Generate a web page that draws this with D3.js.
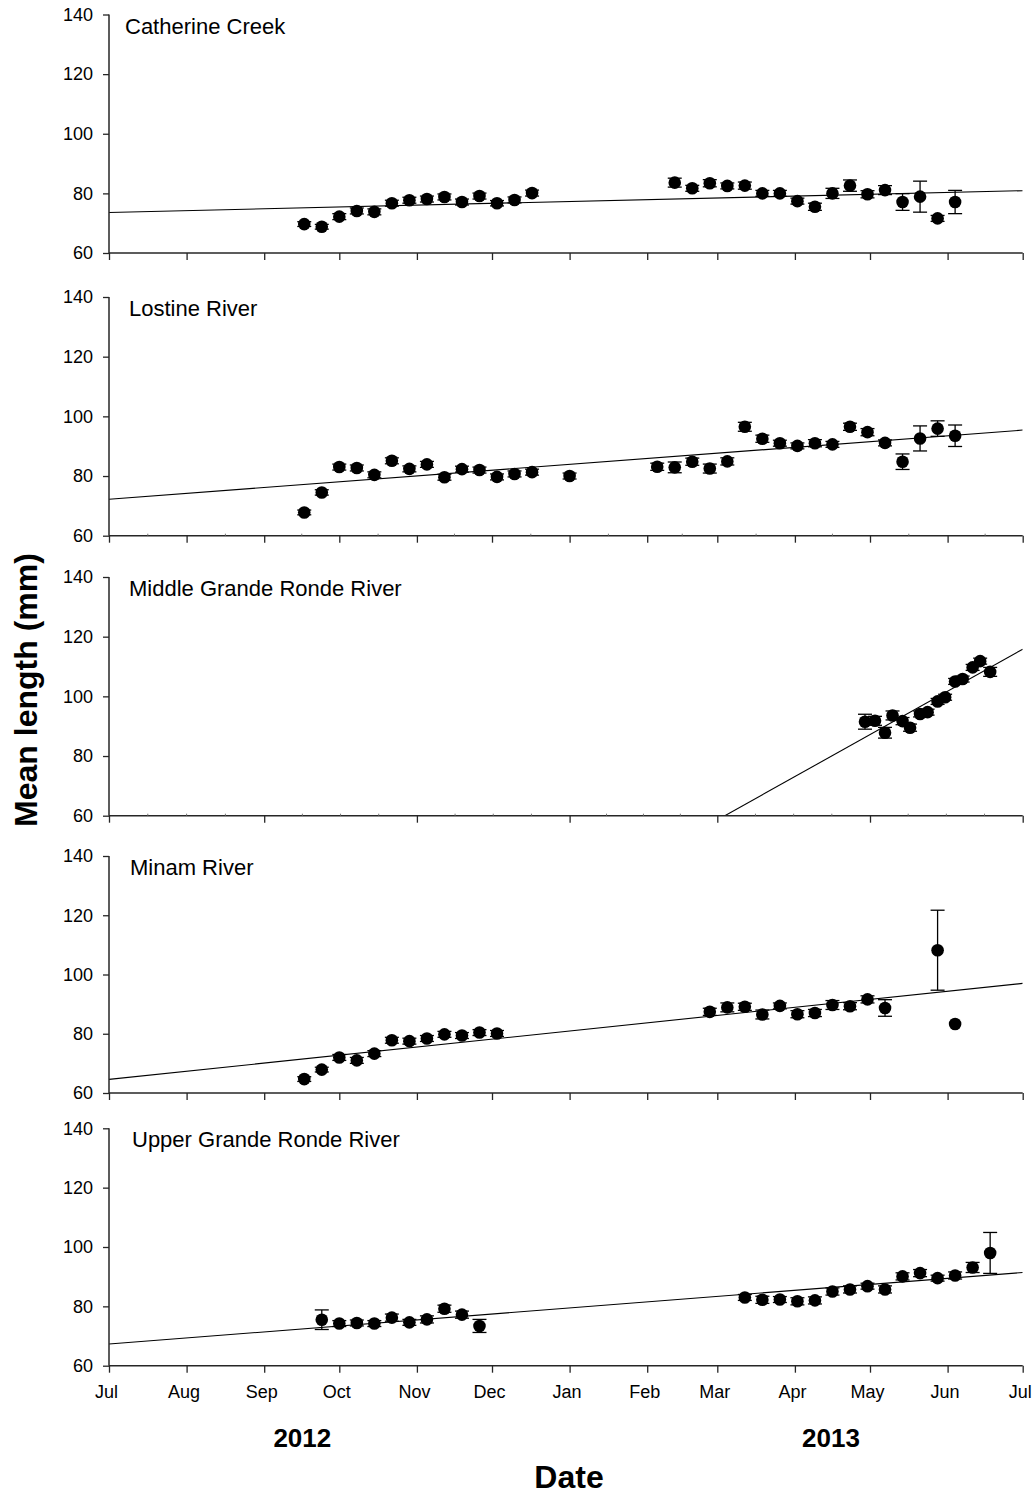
<!DOCTYPE html>
<html>
<head>
<meta charset="utf-8">
<script src="https://d3js.org/d3.v7.min.js"></script>
<style>
  html, body { margin: 0; padding: 0; background: #fff; }
  svg { display: block; font-family: "Liberation Sans", Arial, sans-serif; }
</style>
</head>
<body>
<div id="chart"></div>
<script>
'use strict';

// ─── DATA ────────────────────────────────────────────────────

var riverNames = ['Catherine Creek', 'Lostine River', 'Middle Grande Ronde River', 'Minam River', 'Upper Grande Ronde River'];

var catherineDates = ['2012-09-17', '2012-09-24', '2012-10-01', '2012-10-08', '2012-10-15', '2012-10-22', '2012-10-29',
    '2012-11-05', '2012-11-12', '2012-11-19', '2012-11-26', '2012-12-03', '2012-12-10', '2012-12-17',
    '2013-02-12', '2013-02-19', '2013-02-26', '2013-03-05', '2013-03-12', '2013-03-19', '2013-03-26',
    '2013-04-02', '2013-04-09', '2013-04-16', '2013-04-23', '2013-04-30', '2013-05-07', '2013-05-14',
    '2013-05-21', '2013-05-28', '2013-06-04'];
var catherineMeans = [69.7, 68.8, 72.2, 74.1, 73.8, 76.7, 77.7, 78.1, 78.8, 77.1, 79.1, 76.7, 77.8, 80.1,
    83.6, 81.7, 83.4, 82.5, 82.6, 80.0, 80.0, 77.4, 75.5, 80.0, 82.6, 79.7, 81.1, 77.1, 78.9, 71.6, 77.1];
var catherineSE = [0.8, 0.8, 1.0, 1.0, 1.0, 1.0, 1.0, 1.0, 1.0, 1.0, 1.0, 0.9, 1.0, 1.0,
    1.5, 1.0, 1.2, 1.0, 1.2, 1.0, 1.0, 1.0, 1.2, 1.7, 1.9, 1.2, 1.5, 2.8, 5.2, 1.0, 3.9];
var catherineTrend = [73.6, 80.9];

var lostineDates = ['2012-09-17', '2012-09-24', '2012-10-01', '2012-10-08', '2012-10-15', '2012-10-22', '2012-10-29',
    '2012-11-05', '2012-11-12', '2012-11-19', '2012-11-26', '2012-12-03', '2012-12-10', '2012-12-17',
    '2013-01-01', '2013-02-05', '2013-02-12', '2013-02-19', '2013-02-26', '2013-03-05', '2013-03-12',
    '2013-03-19', '2013-03-26', '2013-04-02', '2013-04-09', '2013-04-16', '2013-04-23', '2013-04-30',
    '2013-05-07', '2013-05-14', '2013-05-21', '2013-05-28', '2013-06-04'];
var lostineMeans = [67.8, 74.5, 83.0, 82.7, 80.4, 85.1, 82.4, 83.9, 79.6, 82.3, 82.0, 79.7, 80.7, 81.3,
    80.0, 83.1, 82.9, 84.8, 82.5, 84.9, 96.5, 92.5, 91.0, 90.1, 91.0, 90.6, 96.5, 94.7, 91.1, 84.8,
    92.6, 95.9, 93.5];
var lostineSE = [0.8, 0.9, 1.0, 1.0, 1.0, 1.0, 1.0, 1.0, 1.0, 1.0, 1.0, 1.0, 1.0, 1.0,
    1.0, 1.2, 1.8, 1.2, 1.5, 1.2, 1.5, 1.2, 1.0, 1.0, 1.2, 1.0, 1.2, 1.2, 1.0, 2.6, 4.2, 2.6, 3.6];
var lostineTrend = [72.2, 95.4];

var middleDates = ['2013-04-29', '2013-05-03', '2013-05-07', '2013-05-10', '2013-05-14', '2013-05-17', '2013-05-21',
    '2013-05-24', '2013-05-28', '2013-05-31', '2013-06-04', '2013-06-07', '2013-06-11', '2013-06-14', '2013-06-18'];
var middleMeans = [91.5, 91.8, 87.8, 93.6, 91.7, 89.5, 94.1, 94.7, 98.3, 99.7, 105.0, 105.8, 109.7, 111.8, 108.2];
var middleSE = [2.5, 1.5, 1.8, 1.5, 1.2, 1.2, 1.0, 1.0, 1.0, 1.0, 1.0, 1.0, 1.0, 1.0, 1.5];
var middleTrend = [-55.4, 115.8];

var minamDates = ['2012-09-17', '2012-09-24', '2012-10-01', '2012-10-08', '2012-10-15', '2012-10-22', '2012-10-29',
    '2012-11-05', '2012-11-12', '2012-11-19', '2012-11-26', '2012-12-03',
    '2013-02-26', '2013-03-05', '2013-03-12', '2013-03-19', '2013-03-26', '2013-04-02', '2013-04-09',
    '2013-04-16', '2013-04-23', '2013-04-30', '2013-05-07', '2013-05-28', '2013-06-04'];
var minamMeans = [64.7, 67.9, 72.0, 71.0, 73.3, 77.8, 77.5, 78.4, 79.8, 79.4, 80.4, 80.1,
    87.4, 88.9, 89.1, 86.5, 89.4, 86.6, 87.0, 89.7, 89.3, 91.6, 88.7, 108.2, 83.3];
var minamSE = [0.8, 0.8, 1.0, 1.0, 1.0, 1.0, 1.0, 1.0, 1.0, 1.0, 1.0, 1.0,
    1.2, 1.5, 1.2, 1.5, 1.0, 1.2, 1.2, 1.5, 1.2, 1.2, 2.8, 13.5, 0];
var minamTrend = [64.6, 97.0];

var upperDates = ['2012-09-24', '2012-10-01', '2012-10-08', '2012-10-15', '2012-10-22', '2012-10-29',
    '2012-11-05', '2012-11-12', '2012-11-19', '2012-11-26',
    '2013-03-12', '2013-03-19', '2013-03-26', '2013-04-02', '2013-04-09', '2013-04-16', '2013-04-23',
    '2013-04-30', '2013-05-07', '2013-05-14', '2013-05-21', '2013-05-28', '2013-06-04', '2013-06-11', '2013-06-18'];
var upperMeans = [75.5, 74.2, 74.4, 74.2, 76.2, 74.6, 75.6, 79.2, 77.2, 73.4,
    83.0, 82.2, 82.3, 81.7, 82.0, 85.0, 85.7, 86.8, 85.7, 90.1, 91.2, 89.5, 90.4, 93.1, 98.0];
var upperSE = [3.3, 1.0, 1.0, 1.0, 1.2, 1.0, 1.2, 1.2, 1.2, 2.2,
    1.0, 1.2, 1.0, 1.2, 1.2, 1.2, 1.2, 1.0, 1.2, 1.2, 1.2, 1.0, 1.2, 1.7, 6.9];
var upperTrend = [67.3, 91.4];

var yTicks = [60, 80, 100, 120, 140];
var monthLabels = ['Jul', 'Aug', 'Sep', 'Oct', 'Nov', 'Dec', 'Jan', 'Feb', 'Mar', 'Apr', 'May', 'Jun', 'Jul'];
var yearLabels = ['2012', '2013'];

// ─── LAYOUT ──────────────────────────────────────────────────

var W = 1034, H = 1494;
var X0 = 109, X1 = 1022.7;
var panelTops = [14.5, 297, 577, 856, 1128.3];
var panelBottoms = [253, 535.7, 815.7, 1093, 1365.7];
var titleX = [125, 129, 129, 130, 132];
// tick style per panel: 'month', 'half' (monthly + mid-month minors), 'bimonth'
var tickStyles = ['month', 'half', 'bimonth', 'month', 'month'];

var parse = d3.timeParse('%Y-%m-%d');
var domainStart = new Date(2012, 6, 1);
var domainEnd = new Date(2013, 6, 1);

var x = d3.scaleTime().domain([domainStart, domainEnd]).range([X0, X1]);

var panels = [
    { dates: catherineDates, means: catherineMeans, se: catherineSE, trend: catherineTrend },
    { dates: lostineDates, means: lostineMeans, se: lostineSE, trend: lostineTrend },
    { dates: middleDates, means: middleMeans, se: middleSE, trend: middleTrend },
    { dates: minamDates, means: minamMeans, se: minamSE, trend: minamTrend },
    { dates: upperDates, means: upperMeans, se: upperSE, trend: upperTrend }
];

var svg = d3.select('#chart')
    .append('svg')
    .attr('width', W)
    .attr('height', H);

var AXIS_COLOR = '#262626';

// ─── PANELS ──────────────────────────────────────────────────

panels.forEach(function(p, i) {
    var y = d3.scaleLinear().domain([60, 140]).range([panelBottoms[i], panelTops[i]]);
    var g = svg.append('g').attr('class', 'panel');

    g.append('clipPath')
        .attr('id', 'clip' + i)
        .append('rect')
        .attr('x', X0)
        .attr('y', panelTops[i])
        .attr('width', X1 - X0)
        .attr('height', panelBottoms[i] - panelTops[i]);

    // regression line
    g.append('line')
        .attr('clip-path', 'url(#clip' + i + ')')
        .attr('x1', x(domainStart))
        .attr('x2', x(domainEnd))
        .attr('y1', y(p.trend[0]))
        .attr('y2', y(p.trend[1]))
        .attr('stroke', '#000')
        .attr('stroke-width', 1.1);

    var rows = p.dates.map(function(d, k) {
        return { date: parse(d), mean: p.means[k], se: p.se[k] };
    });

    // error bars
    var eb = g.append('g').attr('class', 'errorbars')
        .selectAll('g')
        .data(rows.filter(function(d) { return d.se > 0; }))
        .enter()
        .append('g')
        .attr('stroke', '#000')
        .attr('stroke-width', 1.3);

    eb.append('line')
        .attr('x1', function(d) { return x(d.date); })
        .attr('x2', function(d) { return x(d.date); })
        .attr('y1', function(d) { return y(d.mean - d.se); })
        .attr('y2', function(d) { return y(d.mean + d.se); });
    eb.append('line')
        .attr('x1', function(d) { return x(d.date) - 7; })
        .attr('x2', function(d) { return x(d.date) + 7; })
        .attr('y1', function(d) { return y(d.mean + d.se); })
        .attr('y2', function(d) { return y(d.mean + d.se); });
    eb.append('line')
        .attr('x1', function(d) { return x(d.date) - 7; })
        .attr('x2', function(d) { return x(d.date) + 7; })
        .attr('y1', function(d) { return y(d.mean - d.se); })
        .attr('y2', function(d) { return y(d.mean - d.se); });

    // markers
    g.append('g').attr('class', 'points')
        .selectAll('circle')
        .data(rows)
        .enter()
        .append('circle')
        .attr('cx', function(d) { return x(d.date); })
        .attr('cy', function(d) { return y(d.mean); })
        .attr('r', 6.3)
        .attr('fill', '#000');

    // y axis
    var yAxis = g.append('g')
        .attr('transform', 'translate(' + X0 + ',0)')
        .call(d3.axisLeft(y).tickValues(yTicks).tickSize(6).tickPadding(10));
    yAxis.select('.domain').attr('stroke', AXIS_COLOR).attr('stroke-width', 1.5)
        .attr('d', 'M0,' + panelTops[i] + 'V' + panelBottoms[i]);
    yAxis.selectAll('.tick line').attr('stroke', AXIS_COLOR).attr('stroke-width', 1.3);
    yAxis.selectAll('.tick text')
        .attr('font-size', 18)
        .attr('font-family', '"Liberation Sans", Arial, sans-serif')
        .attr('fill', '#000');

    // x axis
    var style = tickStyles[i];
    var majors = style === 'bimonth'
        ? d3.timeMonth.every(2).range(domainStart, d3.timeDay.offset(domainEnd, 1))
        : d3.timeMonth.range(domainStart, d3.timeDay.offset(domainEnd, 1));

    var xAxisGen = d3.axisBottom(x).tickValues(majors).tickSize(7).tickPadding(12.7);
    if (i === panels.length - 1) {
        xAxisGen.tickFormat(function(d, k) { return monthLabels[k]; });
    } else {
        xAxisGen.tickFormat('');
    }
    var xAxis = g.append('g')
        .attr('transform', 'translate(0,' + panelBottoms[i] + ')')
        .call(xAxisGen);
    xAxis.select('.domain').attr('stroke', AXIS_COLOR).attr('stroke-width', 1.5)
        .attr('d', 'M' + X0 + ',0H' + X1);
    xAxis.selectAll('.tick line').attr('stroke', AXIS_COLOR).attr('stroke-width', 1.3);
    xAxis.selectAll('.tick text')
        .attr('font-size', 18)
        .attr('font-family', '"Liberation Sans", Arial, sans-serif')
        .attr('dx', -3)
        .attr('fill', '#000');

    // minor ticks
    var minorX = [];
    if (style === 'half') {
        majors.slice(0, -1).forEach(function(m, k) {
            minorX.push((x(m) + x(majors[k + 1])) / 2);
        });
    } else if (style === 'bimonth') {
        majors.slice(0, -1).forEach(function(m, k) {
            var a = x(m), b = x(majors[k + 1]);
            [1, 2, 3].forEach(function(q) { minorX.push(a + (b - a) * q / 4); });
        });
    }
    g.append('g').selectAll('line')
        .data(minorX)
        .enter()
        .append('line')
        .attr('x1', function(d) { return d; })
        .attr('x2', function(d) { return d; })
        .attr('y1', panelBottoms[i])
        .attr('y2', panelBottoms[i] - 2)
        .attr('stroke', '#777')
        .attr('stroke-width', 1);

    // panel title
    g.append('text')
        .attr('x', titleX[i])
        .attr('y', panelTops[i] + 19)
        .attr('font-size', 22)
        .attr('fill', '#000')
        .text(riverNames[i]);
});

// ─── AXIS TITLES ─────────────────────────────────────────────

var yearX = [x(new Date(2012, 9, 1)) - 37, x(new Date(2013, 4, 1)) - 39];
svg.append('g').selectAll('text')
    .data(yearLabels)
    .enter()
    .append('text')
    .attr('x', function(d, k) { return yearX[k]; })
    .attr('y', 1446.7)
    .attr('text-anchor', 'middle')
    .attr('font-size', 26)
    .attr('font-weight', 'bold')
    .text(function(d) { return d; });

svg.append('text')
    .attr('x', 569)
    .attr('y', 1487.5)
    .attr('text-anchor', 'middle')
    .attr('font-size', 32)
    .attr('font-weight', 'bold')
    .text('Date');

svg.append('text')
    .attr('transform', 'translate(37,690) rotate(-90)')
    .attr('text-anchor', 'middle')
    .attr('font-size', 32)
    .attr('font-weight', 'bold')
    .text('Mean length (mm)');
</script>
</body>
</html>
